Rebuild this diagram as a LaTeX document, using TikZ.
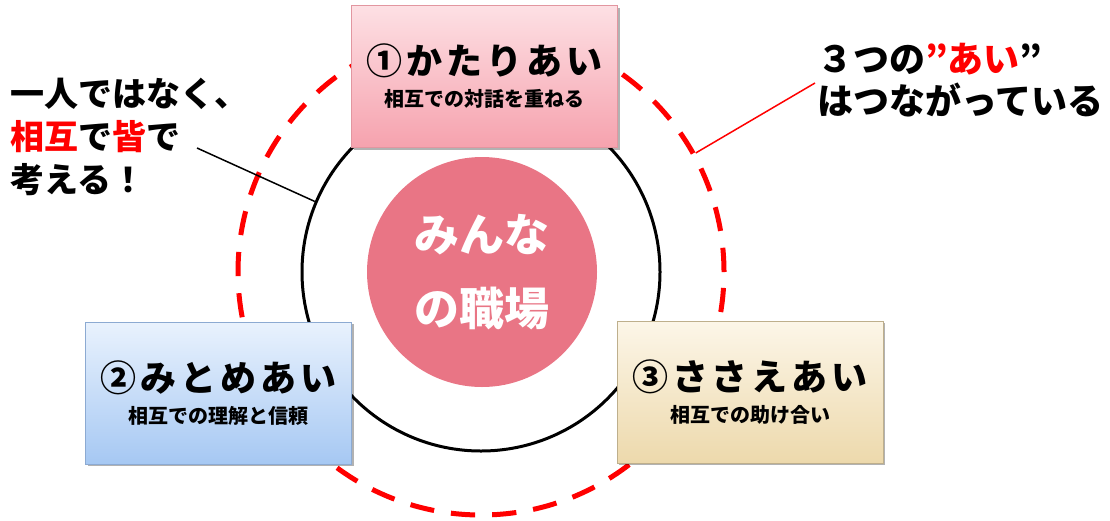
\documentclass[tikz,border=0pt]{standalone}
\usepackage{fontspec}
\setmainfont{Noto Sans CJK JP}
\usetikzlibrary{shadows}

\definecolor{aired}{RGB}{255,0,0}
\definecolor{hubpink}{RGB}{233,117,133}
\definecolor{pinktop}{RGB}{253,224,228}
\definecolor{pinkbot}{RGB}{246,162,174}
\definecolor{pinkline}{RGB}{226,150,160}
\definecolor{bluetop}{RGB}{233,242,253}
\definecolor{bluebot}{RGB}{166,200,243}
\definecolor{blueline}{RGB}{140,170,210}
\definecolor{sandtop}{RGB}{252,246,232}
\definecolor{sandbot}{RGB}{237,217,172}
\definecolor{sandline}{RGB}{190,175,140}

\newcommand{\aihead}[1]{{\fontsize{36}{36}\selectfont\addfontfeature{LetterSpace=11}#1}}
\newcommand{\aisub}[1]{{\fontsize{20}{24}\selectfont #1}}

\begin{document}
\begin{tikzpicture}[x=1pt,y=-1pt,
	aibox/.style={draw, line width=0.8pt, minimum width=266pt, minimum height=142pt,
		align=center, inner sep=0pt, font=\bfseries\fontsize{20}{24}\selectfont,
		drop shadow={shadow xshift=2pt, shadow yshift=-2pt, opacity=0.3, fill=black}},
	notetext/.style={anchor=west, align=left, inner sep=0pt}]
	\useasboundingbox (0,0) rectangle (1110,520);
	% rings
	\node[circle, draw=aired, line width=5pt, dash pattern=on 24.3pt off 17pt, minimum size=486pt] (loop) at (481,272) {};
	\node[circle, draw, line width=3pt, minimum size=358pt] (ring) at (481,272) {};
	\node[circle, fill=hubpink, minimum size=230pt, text=white, align=center,
		font=\bfseries\fontsize{45}{74}\selectfont] (hub) at (482,272) {みんな\\の職場};
	% the three ai
	\node[aibox, draw=pinkline, top color=pinktop, bottom color=pinkbot] (katari) at (484.5,76.5)
		{\aihead{①かたりあい}\\[8pt]\aisub{相互での対話を重ねる}};
	\node[aibox, draw=blueline, top color=bluetop, bottom color=bluebot] (mitome) at (218.5,393)
		{\aihead{②みとめあい}\\[8pt]\aisub{相互での理解と信頼}};
	\node[aibox, draw=sandline, top color=sandtop, bottom color=sandbot] (sasae) at (750,392)
		{\aihead{③ささえあい}\\[8pt]\aisub{相互での助け合い}};
	% notes
	\node[notetext, font=\bfseries\fontsize{34}{43}\selectfont] (think) at (10,137)
		{一人ではなく、\\{\color{aired}相互}で{\color{aired}皆}で\\考える！};
	\node[notetext, font=\bfseries\fontsize{36}{42}\selectfont] (link) at (817,80)
		{３つの{\color{aired}”あい}”\\はつながっている};
	\coordinate (thinktip) at (197,148);
	\coordinate (linktip) at (815,83);
	\draw[line width=1.5pt] (thinktip) -- (ring.157);
	\draw[aired, line width=1.5pt] (linktip) -- (loop.29);
\end{tikzpicture}
\end{document}
